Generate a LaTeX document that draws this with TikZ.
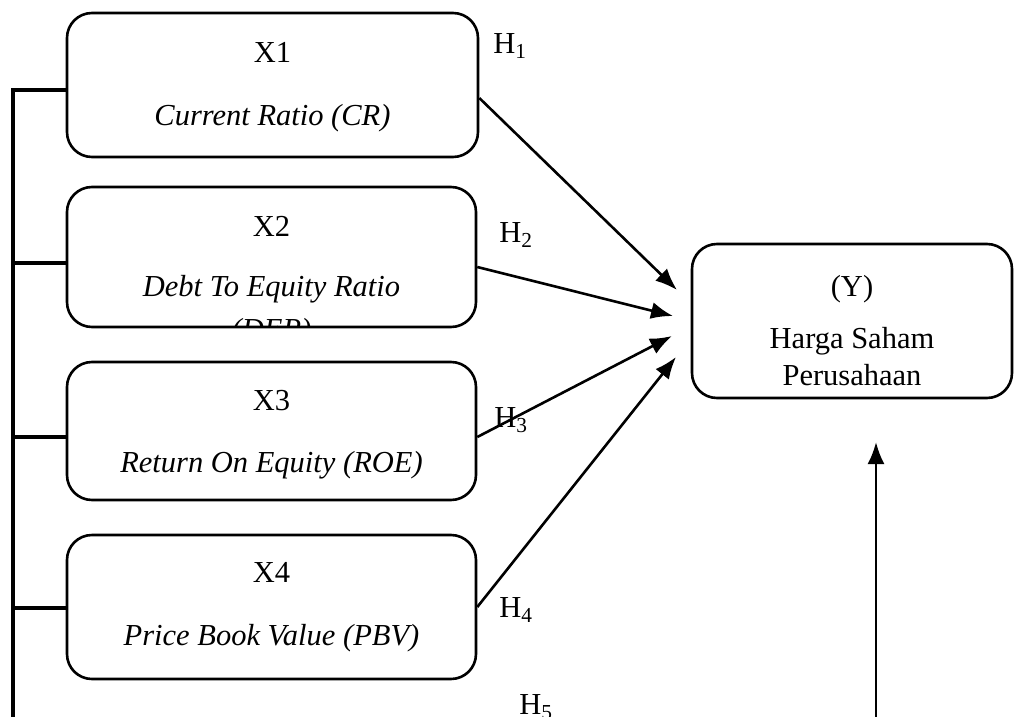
\documentclass[tikz,border=0pt]{standalone}
\usepackage{fontspec}
\setmainfont{Liberation Serif}
\usepackage{tikz}
\usetikzlibrary{arrows.meta,positioning,calc}

\begin{document}
\begin{tikzpicture}[
    x=1pt, y=-1pt,
    every node/.style={font=\fontsize{30.5}{37}\selectfont},
    varbox/.style={rectangle, rounded corners=25pt, draw=black, line width=2.6pt, inner sep=0pt},
    vartext/.style={inner sep=0pt, align=center},
    hlabel/.style={inner sep=0pt},
    arrow/.style={-{Latex[length=22pt,width=17pt]}, line width=2.6pt},
    bracket/.style={line width=3.5pt}
]
\useasboundingbox (0,0) rectangle (1014,717);

% Independent variables
\node[varbox, minimum width=411pt, minimum height=144pt] (x1) at (272.5,85) {};
\node[varbox, minimum width=409pt, minimum height=140pt] (x2) at (271.5,257) {};
\node[varbox, minimum width=409pt, minimum height=138pt] (x3) at (271.5,431) {};
\node[varbox, minimum width=409pt, minimum height=144pt] (x4) at (271.5,607) {};

% Dependent variable
\node[varbox, minimum width=320pt, minimum height=154pt] (y) at (852,321) {};

% Box texts
\node[vartext, below=30pt of x1.north] (x1text) {X1\\[26pt]\textit{Current Ratio (CR)}};
\begin{scope}
\clip ([yshift=2pt]x2.south west) rectangle (x2.north east);
\node[vartext, below=30pt of x2.north] (x2text) {X2\\[23pt]\textit{Debt To Equity Ratio}\\[6pt]\textit{(DER)}};
\end{scope}
\node[vartext, below=29pt of x3.north] (x3text) {X3\\[25pt]\textit{Return On Equity (ROE)}};
\node[vartext, below=29pt of x4.north] (x4text) {X4\\[26pt]\textit{Price Book Value (PBV)}};
\node[vartext, below=32pt of y.north] (ytext) {(Y)\\[15pt]Harga Saham\\Perusahaan};

% Hypothesis labels
\node[hlabel] (h1) at (510,46) {H\textsubscript{1}};
\node[hlabel] (h2) at (516,235) {H\textsubscript{2}};
\node[hlabel] (h3) at (511,420) {H\textsubscript{3}};
\node[hlabel] (h4) at (516,610) {H\textsubscript{4}};
\node[hlabel] (h5) at (536,707) {H\textsubscript{5}};

% Arrow tips
\coordinate (t1) at (677,290);
\coordinate (t2) at (673,316);
\coordinate (t3) at (672,336);
\coordinate (t4) at (676,357);
\coordinate (t5) at (876,442);
\coordinate (b5) at (876,730);

% Arrows
\draw[arrow] ([yshift=-13pt]x1.east) -- (t1);
\draw[arrow] ([yshift=-10pt]x2.east) -- (t2);
\draw[arrow] ([yshift=-6pt]x3.east) -- (t3);
\draw[arrow] (x4.east) -- (t4);
\draw[arrow] (b5) -- (t5);

% Left bracket
\coordinate (top) at (13,88);
\coordinate (bot) at (13,730);
\draw[bracket] (top) -- (bot);
\draw[bracket] (13,90) -- ([yshift=-5pt]x1.west);
\draw[bracket] (13,263) -- ([yshift=-6pt]x2.west);
\draw[bracket] (13,437) -- ([yshift=-6pt]x3.west);
\draw[bracket] (13,608) -- ([yshift=-1pt]x4.west);

\end{tikzpicture}
\end{document}
